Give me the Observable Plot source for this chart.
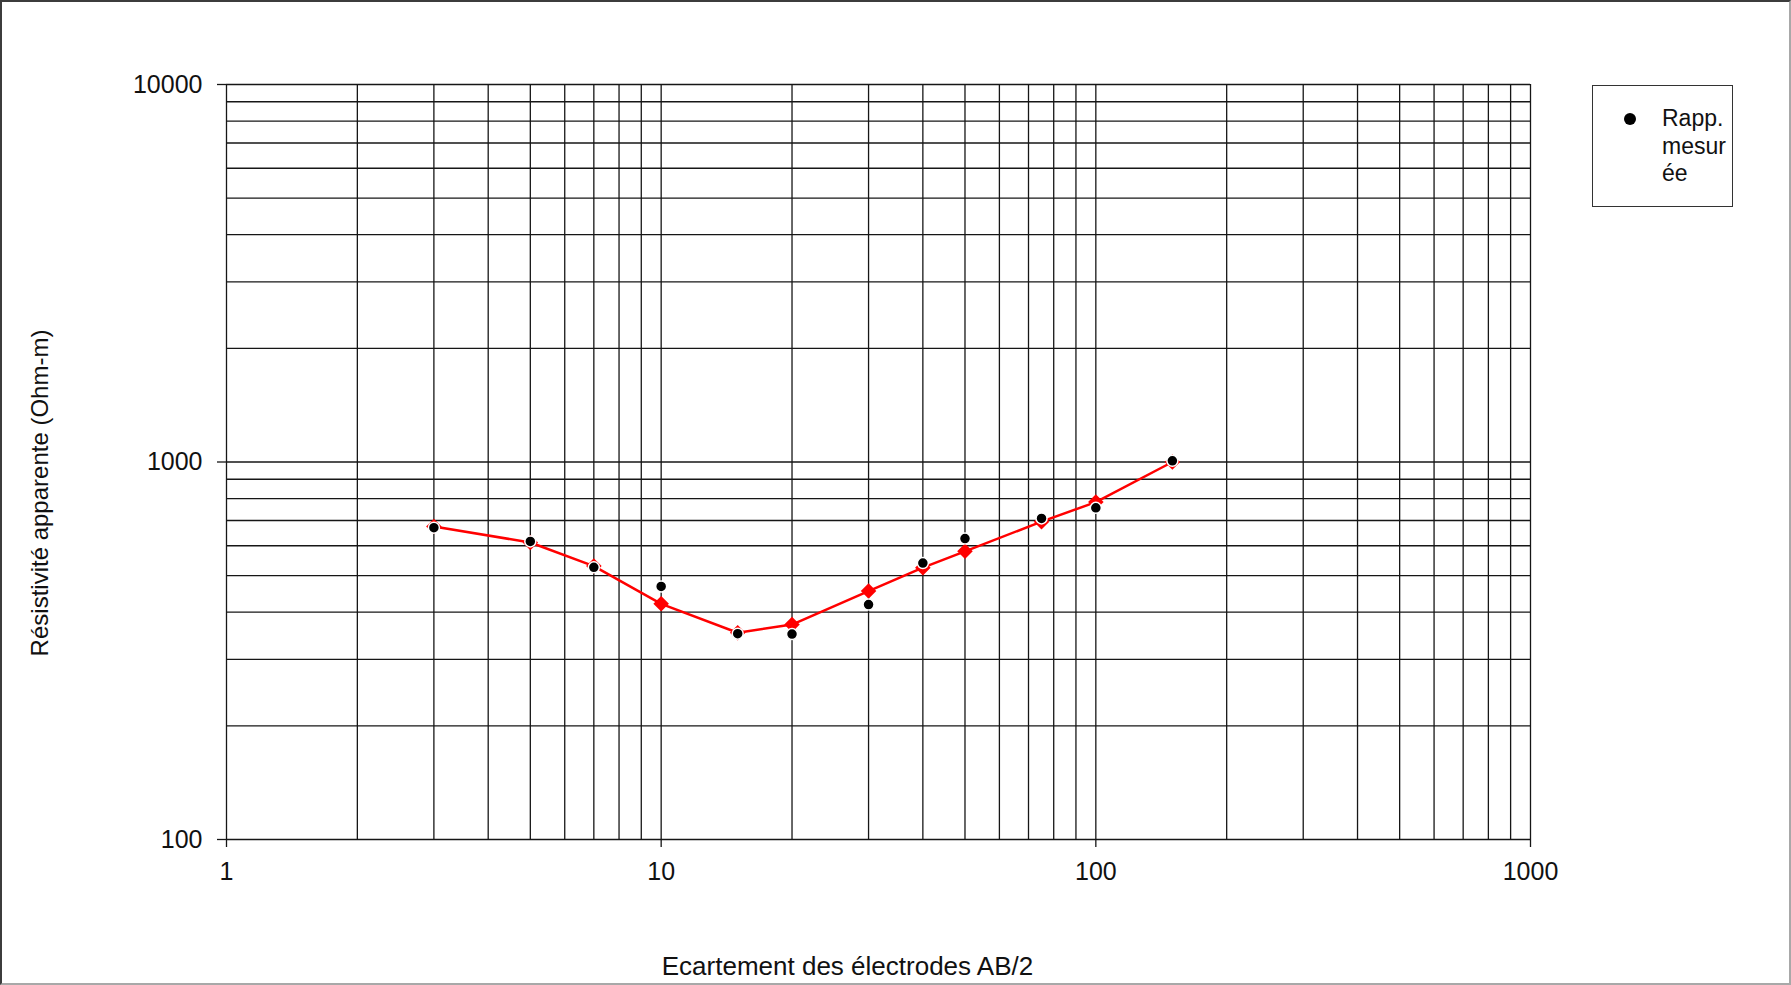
<!DOCTYPE html>
<html>
<head>
<meta charset="utf-8">
<script src="https://cdn.jsdelivr.net/npm/d3@7"></script>
<script src="https://cdn.jsdelivr.net/npm/@observablehq/plot@0.6"></script>
<style>
  html, body { margin: 0; padding: 0; background: #fff; }
  #chart { position: relative; width: 1791px; height: 985px; overflow: hidden;
           font-family: "Liberation Sans", Arial, sans-serif; background: #fff; }
  #chart svg { position: absolute; left: 0; top: 0; }
  #frame { position: absolute; left: 0; top: 0; width: 1791px; height: 985px; box-sizing: border-box;
           border-top: 2px solid #3c3c3c; border-left: 2px solid #3c3c3c;
           border-right: 2px solid #a8a8a8; border-bottom: 2px solid #a8a8a8; pointer-events: none; }
  #legend { position: absolute; left: 1592px; top: 85px; width: 141px; height: 122px; box-sizing: border-box;
            border: 1px solid #333; background: #fff; }
  #legend .sw { position: absolute; left: 31px; top: 27px; width: 12px; height: 12px; border-radius: 50%; background: #000; }
  #legend .lab { position: absolute; left: 69px; top: 19px; font-size: 23px; line-height: 27.5px; color: #111; }
</style>
</head>
<body>
<div id="chart">
  <div id="frame"></div>
</div>
<script>
// Vertical electrical sounding: apparent resistivity versus half electrode spacing
const spacing = [3, 5, 7, 10, 15, 20, 30, 40, 50, 75, 100, 150];            // AB/2
const measured = [670, 616, 526, 468, 351, 350, 419, 540, 627, 709, 756, 1007]; // Rapp. mesurée
const calculated = [675, 612, 530, 421, 353, 371, 455, 525, 580, 695, 783, 1000]; // model curve

const xTicks = [1, 10, 100, 1000];
const yTicks = [100, 1000, 10000];
const xTitle = "Ecartement des électrodes AB/2";
const yTitle = "Résistivité apparente (Ohm-m)";
const legendLines = ["Rapp.", "mesur", "ée"];

const xDomain = [1, 1000];
const yDomain = [100, 10000];

// full logarithmic grid (1..9 within each decade)
const xGrid = d3.scaleLog().domain(xDomain).ticks();
const yGrid = d3.scaleLog().domain(yDomain).ticks();

const measuredRows = spacing.map((x, i) => ({x, rho: measured[i]}));
const calcRows = spacing.map((x, i) => ({x, rho: calculated[i]}));

const gridColor = "#161616";

const chart = Plot.plot({
  width: 1791,
  height: 985,
  marginLeft: 226,
  marginRight: 261,
  marginTop: 84,
  marginBottom: 146,
  style: {fontFamily: "'Liberation Sans', Arial, sans-serif", fontSize: "25px", color: "#111", background: "transparent"},
  x: {type: "log", domain: xDomain},
  y: {type: "log", domain: yDomain},
  marks: [
    Plot.ruleX(xGrid, {stroke: gridColor, strokeWidth: 1.3}),
    Plot.ruleY(yGrid, {stroke: gridColor, strokeWidth: 1.3}),
    Plot.axisX({ticks: xTicks, tickFormat: d => String(d), tickSize: 8, tickPadding: 15,
                label: null, stroke: gridColor, strokeWidth: 1.3, fontSize: 25}),
    Plot.axisY({ticks: yTicks, tickFormat: d => String(d), tickSize: 9, tickPadding: 15,
                label: null, stroke: gridColor, strokeWidth: 1.3, fontSize: 25}),
    Plot.line(calcRows, {x: "x", y: "rho", stroke: "#ff0000", strokeWidth: 2.5}),
    Plot.dot(calcRows, {x: "x", y: "rho", symbol: "diamond2", r: 7, fill: "#ff0000"}),
    Plot.dot(measuredRows, {x: "x", y: "rho", r: 5.5, fill: "#000", stroke: "#fff", strokeWidth: 1.5}),
    Plot.text([xTitle], {text: d => d, frameAnchor: "bottom", dx: -31, dy: 127,
                         textAnchor: "middle", lineAnchor: "middle", fontSize: 26, fill: "#111"}),
    Plot.text([yTitle], {text: d => d, frameAnchor: "left", rotate: -90, dx: -186, dy: 31,
                         textAnchor: "middle", lineAnchor: "middle", fontSize: 24, fill: "#111"})
  ]
});

const root = document.getElementById("chart");
root.insertBefore(chart, root.firstChild);

// legend box for the measured series
const legend = document.createElement("div");
legend.id = "legend";
legend.innerHTML = `<div class="sw"></div><div class="lab">${legendLines.join("<br>")}</div>`;
root.appendChild(legend);
</script>
</body>
</html>
